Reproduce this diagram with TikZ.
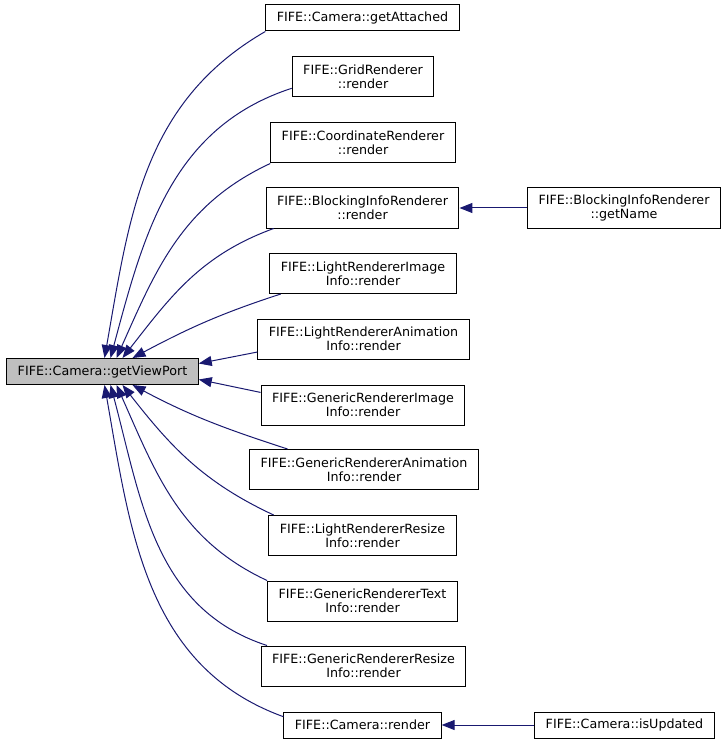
\documentclass[tikz,border=0pt]{standalone}
\usepackage{fontspec}
\setmainfont{DejaVu Sans}
\usetikzlibrary{arrows.meta}
\definecolor{EdgeNavy}{HTML}{191970}
\definecolor{FocusGray}{HTML}{BFBFBF}

\begin{document}
\begin{tikzpicture}[
    x=1pt,y=1pt,
    box/.style={draw=black,line width=1pt,fill=white,align=center,
      inner xsep=11pt,inner ysep=2pt,minimum height=26pt,
      font=\fontsize{12.7}{14}\selectfont},
    tall/.style={minimum height=40pt},
    arrow/.style={-{Triangle[length=13pt,width=10pt]},line width=1pt,color=EdgeNavy}
  ]
  \useasboundingbox (0,0) rectangle (727,-743);

  % called function
  \node[box,fill=FocusGray] (viewport) at (102.5,-371.5) {FIFE::Camera::getViewPort};

  % callers
  \node[box] (attached) at (362.5,-18) {FIFE::Camera::getAttached};
  \node[box,tall] (grid) at (363,-77) {FIFE::GridRenderer\\::render};
  \node[box,tall] (coord) at (363,-143) {FIFE::CoordinateRenderer\\::render};
  \node[box,tall] (blocking) at (362.5,-208) {FIFE::BlockingInfoRenderer\\::render};
  \node[box,tall] (lightimg) at (363,-273.5) {FIFE::LightRendererImage\\Info::render};
  \node[box,tall] (lightanim) at (363.5,-339) {FIFE::LightRendererAnimation\\Info::render};
  \node[box,tall] (genimg) at (363,-405) {FIFE::GenericRendererImage\\Info::render};
  \node[box,tall] (genanim) at (364,-469.5) {FIFE::GenericRendererAnimation\\Info::render};
  \node[box,tall] (lightresize) at (362.5,-535.5) {FIFE::LightRendererResize\\Info::render};
  \node[box,tall] (gentext) at (362.5,-601) {FIFE::GenericRendererText\\Info::render};
  \node[box,tall] (genresize) at (363.5,-666) {FIFE::GenericRendererResize\\Info::render};
  \node[box] (camrender) at (362.5,-725) {FIFE::Camera::render};

  % second level
  \node[box,tall] (getname) at (624,-208) {FIFE::BlockingInfoRenderer\\::getName};
  \node[box] (isupdated) at (624.5,-725) {FIFE::Camera::isUpdated};

  % edges into getViewPort
  \draw[arrow] (attached.south west) to[out=210,in=80] ([xshift=2pt]viewport.north);
  \draw[arrow] (grid.189) to[out=198,in=75] ([xshift=8pt]viewport.north);
  \draw[arrow] (coord.south west) to[out=205,in=66] ([xshift=14pt]viewport.north);
  \draw[arrow] (blocking.193) to[out=200,in=52] ([xshift=20pt]viewport.north);
  \draw[arrow] (lightimg.194) to[out=198,in=28] ([xshift=30pt]viewport.north);
  \draw[arrow] (lightanim.187) -- ([yshift=8pt]viewport.east);
  \draw[arrow] (genimg.173) -- ([yshift=-8pt]viewport.east);
  \draw[arrow] (genanim.165) to[out=162,in=-28] ([xshift=30pt]viewport.south);
  \draw[arrow] (lightresize.167) to[out=155,in=-52] ([xshift=20pt]viewport.south);
  \draw[arrow] (gentext.north west) to[out=155,in=-66] ([xshift=14pt]viewport.south);
  \draw[arrow] (genresize.168) to[out=162,in=-75] ([xshift=8pt]viewport.south);
  \draw[arrow] (camrender.174) to[out=160,in=-80] ([xshift=2pt]viewport.south);

  % edges into the callers
  \draw[arrow] (getname) -- (blocking);
  \draw[arrow] (isupdated) -- (camrender);
\end{tikzpicture}
\end{document}
